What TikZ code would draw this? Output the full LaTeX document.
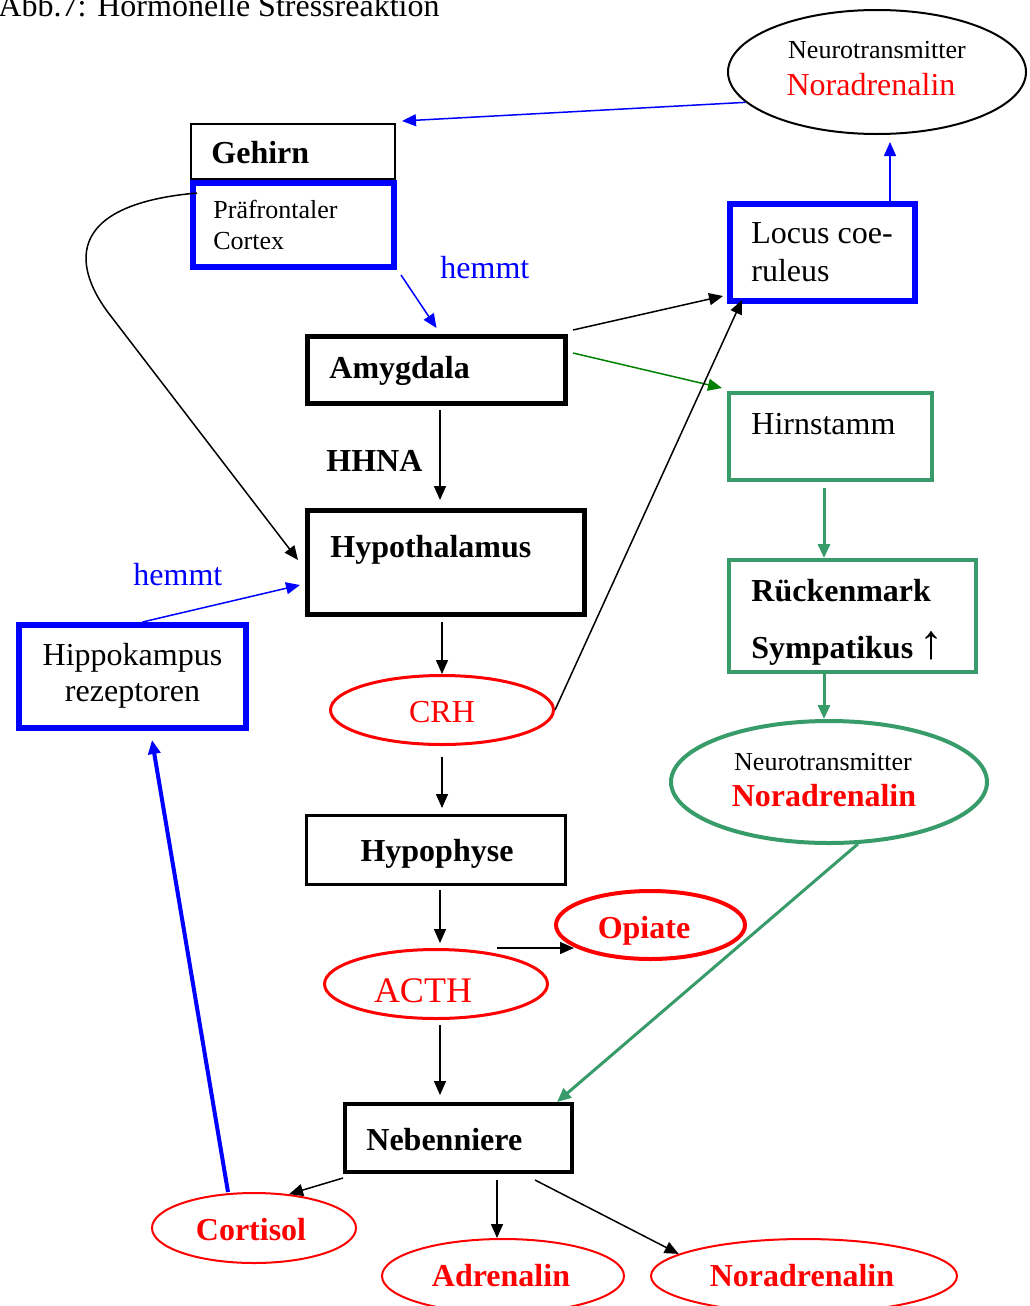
\documentclass[tikz,border=0pt]{standalone}
\usepackage{fontspec}
\setmainfont{Liberation Serif}
\usetikzlibrary{arrows.meta,shapes.geometric,calc}
\definecolor{pureblue}{RGB}{0,0,255}
\definecolor{purered}{RGB}{255,0,0}
\definecolor{arrgreen}{RGB}{0,128,0}
\definecolor{seagreen}{RGB}{56,155,106}
\begin{document}
\begin{tikzpicture}[x=0.5pt,y=-0.5pt,
  box/.style={draw, rectangle, inner sep=0pt},
  oval/.style={draw, ellipse, inner sep=0pt},
  arr/.style={-{Triangle[length=7pt,width=6pt]}, line width=0.75pt},
  lt/.style={inner sep=0pt, anchor=base west},
  ct/.style={inner sep=0pt, anchor=base},
  big/.style={font=\fontsize{16}{19}\selectfont},
  bigb/.style={font=\fontsize{16}{19}\selectfont\bfseries},
  small/.style={font=\fontsize{13}{16}\selectfont}]
\useasboundingbox (0,0) rectangle (1029,1306);

% title
\node[lt, big] (title) at (-2,17) {Abb.7:\hskip 5.5pt Hormonelle Stressreaktion};

% ---- boxes ----
\node[box, line width=1pt, minimum width=102pt, minimum height=27.5pt] (geh) at (293,151.5) {};
\node[box, draw=pureblue, line width=3pt, minimum width=100.5pt, minimum height=42pt] (pfc) at (293.5,225) {};
\node[box, draw=pureblue, line width=3pt, minimum width=92.5pt, minimum height=48.5pt] (lc) at (822.5,252.5) {};
\node[box, line width=2.5pt, minimum width=129pt, minimum height=33.5pt] (amyg) at (436.5,370) {};
\node[box, draw=seagreen, line width=2pt, minimum width=101.5pt, minimum height=43.5pt] (hirn) at (830.5,436.5) {};
\node[box, line width=2.5pt, minimum width=138.5pt, minimum height=52pt] (hyp) at (446,562.5) {};
\node[box, draw=pureblue, line width=3pt, minimum width=113.5pt, minimum height=51.5pt] (hip) at (132.5,676.5) {};
\node[box, draw=seagreen, line width=2pt, minimum width=123.5pt, minimum height=56pt] (rm) at (852.5,616) {};
\node[box, line width=1.5pt, minimum width=129.5pt, minimum height=34.5pt] (hph) at (436,850) {};
\node[box, line width=2pt, minimum width=113.5pt, minimum height=34pt] (neb) at (458.5,1138) {};

% ---- ellipses ----
\node[oval, line width=1pt, minimum width=149pt, minimum height=62pt] (nt1) at (877,72) {};
\node[oval, draw=purered, line width=1.5pt, minimum width=111.5pt, minimum height=34.5pt] (crh) at (442,710) {};
\node[oval, draw=purered, line width=1.5pt, minimum width=111.5pt, minimum height=34.5pt] (acth) at (436,984) {};
\node[oval, draw=purered, line width=2pt, minimum width=94.5pt, minimum height=34pt] (opi) at (650.5,925) {};
\node[oval, draw=seagreen, line width=2pt, minimum width=158pt, minimum height=61pt] (gel) at (829,782) {};
\node[oval, draw=purered, line width=1pt, minimum width=102pt, minimum height=35pt] (cort) at (254,1228) {};
\node[oval, draw=purered, line width=1pt, minimum width=121pt, minimum height=37pt] (adr) at (503,1276) {};
\node[oval, draw=purered, line width=1pt, minimum width=153pt, minimum height=37pt] (nor) at (804,1276) {};

% ---- texts ----
\node[lt, bigb] (gehT) at (211,163) {Gehirn};
\node[lt, small] (pfcA) at (213,218) {Präfrontaler};
\node[lt, small] (pfcB) at (213,249) {Cortex};
\node[lt, big, text=pureblue] (hemmA) at (440,278) {hemmt};
\node[ct, small] (nt1A) at (877,58) {Neurotransmitter};
\node[ct, big, text=purered] (nt1B) at (871,95) {Noradrenalin};
\node[lt, big] (lcA) at (751,243) {Locus coe-};
\node[lt, big] (lcB) at (751,281) {ruleus};
\node[lt, bigb] (amygT) at (329,378) {Amygdala};
\node[lt, bigb] (hhna) at (326,471) {HHNA};
\node[lt, big] (hirnT) at (751,434) {Hirnstamm};
\node[lt, bigb] (hypT) at (330,557) {Hypothalamus};
\node[lt, big, text=pureblue] (hemmB) at (133,585) {hemmt};
\node[ct, big] (hipA) at (132.5,665) {Hippokampus};
\node[ct, big] (hipB) at (132.5,701) {rezeptoren};
\node[lt, bigb] (rmA) at (751,601) {Rückenmark};
\node[lt, bigb] (rmB) at (751,658) {Sympatikus\hskip 3pt{\mdseries\fontsize{24}{24}\selectfont ↑}};
\node[ct, small] (gelA) at (823,770) {Neurotransmitter};
\node[ct, bigb, text=purered] (gelB) at (824,806) {Noradrenalin};
\node[ct, big, text=purered] (crhT) at (442,722) {CRH};
\node[ct, bigb] (hphT) at (437,861) {Hypophyse};
\node[ct, bigb, text=purered] (opiT) at (644,938) {Opiate};
\node[ct, font=\fontsize{18}{21}\selectfont, text=purered] (acthT) at (423,1002) {ACTH};
\node[lt, bigb] (nebT) at (366,1150) {Nebenniere};
\node[ct, bigb, text=purered] (cortT) at (251,1240) {Cortisol};
\node[ct, bigb, text=purered] (adrT) at (501,1286) {Adrenalin};
\node[ct, bigb, text=purered] (norT) at (802,1286) {Noradrenalin};

% ---- connectors ----
\draw[arr, pureblue] (nt1.193) -- ([xshift=3pt,yshift=1pt]geh.north east);
\draw[arr, pureblue, shorten >=3.5pt] ([xshift=33.75pt]lc.north) -- ([xshift=33.75pt]lc.north |- nt1.south);
\draw[arr, pureblue] ([xshift=2pt,yshift=-2.5pt]pfc.south east) -- ([yshift=3pt]amyg.north);
\draw[arr] ([xshift=2.5pt,yshift=2pt]amyg.north east) -- ([xshift=-2pt,yshift=4pt]lc.south west);
\draw[arr, arrgreen] ([xshift=2.5pt,yshift=8.5pt]amyg.east) -- ([xshift=-2.5pt,yshift=1.5pt]hirn.north west);
\draw[arr, shorten >=4pt] ([xshift=1.75pt,yshift=-2pt]amyg.south) -- ([xshift=1.75pt]amyg.south |- hyp.north);
\draw[arr] ([xshift=3.5pt,yshift=-6.5pt]pfc.north west) .. controls (60,205) and (75,270) .. (110,315)
  -- ([xshift=-3.5pt,yshift=-26pt]hyp.north west);
\draw[arr, pureblue] ([xshift=5pt]hip.north) -- ([xshift=-2.5pt,yshift=-11.25pt]hyp.west);
\draw[arr, shorten <=2.5pt] (crh.north |- hyp.south) -- (crh.north);
\draw[arr] (crh.east) -- ([xshift=7.5pt,yshift=2pt]lc.south west);
\draw[arr, shorten <=5.5pt, shorten >=3pt] (crh.south) -- (crh.south |- hph.north);
\draw[arr, shorten <=2pt, shorten >=2.5pt] ([xshift=2pt]hph.south) -- ([xshift=2pt]hph.south |- acth.north);
\draw[arr] ([xshift=30.5pt]acth.north) -- (opi.196 |- acth.north);
\draw[arr, shorten <=2.5pt, shorten >=3.5pt] ([xshift=2pt]acth.south) -- ([xshift=2pt]acth.south |- neb.north);
\draw[arr, seagreen, line width=1.5pt, shorten <=3pt] ([xshift=-3.25pt]hirn.south) -- ([xshift=-3.25pt]hirn.south |- rm.north);
\draw[arr, seagreen, line width=1.5pt] ([xshift=-3.25pt]hirn.south |- rm.south) -- ([xshift=-3.25pt]hirn.south |- gel.north);
\draw[arr, seagreen, line width=1.5pt] (gel.295) -- ([xshift=-8.5pt]neb.north east);
\draw[arr] ([yshift=-2pt]neb.south west) -- (cort.44);
\draw[arr, pureblue, line width=2pt] ([xshift=-13pt]cort.north) -- ([xshift=9.75pt,yshift=-4.5pt]hip.south);
\draw[arr, shorten <=3pt] ([xshift=-3pt]adr.north |- neb.south) -- ([xshift=-3pt]adr.north);
\draw[arr] ([xshift=-19.5pt,yshift=-3pt]neb.south east) -- (nor.170);
\end{tikzpicture}
\end{document}
